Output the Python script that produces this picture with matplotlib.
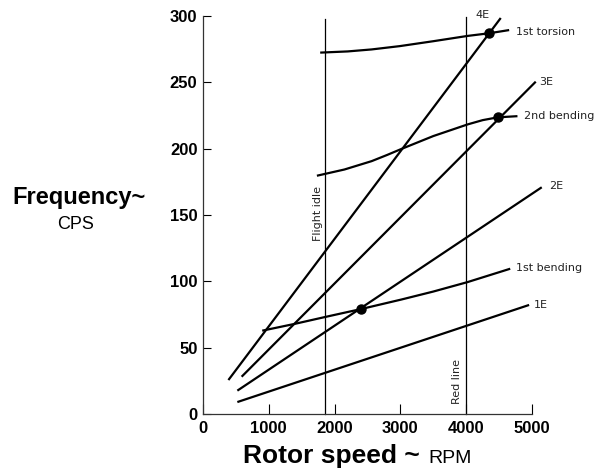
import matplotlib
matplotlib.use("Agg")
import matplotlib.pyplot as plt

# ---- data ----
e1_rpm = [522, 4956]
e1_cps = [9.0, 82.2]
e2_rpm = [522, 5148]
e2_cps = [17.6, 170.9]
e3_rpm = [587, 5057]
e3_cps = [28.1, 250.5]
e4_rpm = [386, 4525]
e4_cps = [25.6, 298.5]

bend1_rpm = [900, 1400, 1872, 2401, 3016, 3500, 4019, 4669]
bend1_cps = [62.8, 68.0, 73.3, 79.1, 86.3, 92.3, 99.4, 109.5]
bend2_rpm = [1731, 2150, 2563, 2800, 3016, 3500, 4023, 4250, 4477, 4779]
bend2_cps = [179.6, 184.3, 190.6, 195.3, 199.8, 209.5, 218.3, 221.5, 223.6, 224.5]
tors1_rpm = [1781, 2200, 2563, 2991, 3500, 4023, 4351, 4653]
tors1_cps = [272.4, 273.3, 274.8, 277.3, 281.0, 285.0, 287.0, 289.4]

dot_rpm = [2400, 4480, 4350]
dot_cps = [79.0, 223.5, 287.0]

flight_idle_rpm = 1860
red_line_rpm = 4000

line_labels = ["4E", "1st torsion", "3E", "2nd bending", "2E", "1st bending", "1E"]
label_rpm = [4246, 4755, 5107, 4880, 5259, 4755, 5032]
label_cps = [300.7, 288.2, 250.5, 224.9, 171.9, 109.9, 82.2]

x_ticks = [0, 1000, 2000, 3000, 4000, 5000]
y_ticks = [0, 50, 100, 150, 200, 250, 300]

# ---- figure ----
plt.rcParams['font.family'] = ['Liberation Sans', 'DejaVu Sans']
W, H = 610, 470
fig = plt.figure(figsize=(W / 100, H / 100), dpi=100)
ax = fig.add_axes([203 / W, (H - 414) / H, (532 - 203) / W, (414 - 16) / H])
ax.set_xlim(0, 5000)
ax.set_ylim(0, 300)

lw = 1.6
for xs, ys in [(e1_rpm, e1_cps), (e2_rpm, e2_cps), (e3_rpm, e3_cps), (e4_rpm, e4_cps),
               (bend1_rpm, bend1_cps), (bend2_rpm, bend2_cps), (tors1_rpm, tors1_cps)]:
    ax.plot(xs, ys, color='black', lw=lw, clip_on=False, solid_capstyle='butt',
            solid_joinstyle='round')

ax.plot([flight_idle_rpm, flight_idle_rpm], [0, 298], color='black', lw=0.9, clip_on=False)
ax.plot([red_line_rpm, red_line_rpm], [0, 299], color='black', lw=0.9, clip_on=False)

ax.plot(dot_rpm, dot_cps, 'o', color='black', ms=6.5, clip_on=False)

small = dict(family=['DejaVu Sans'], fontsize=8, color='#222222')
for t, xr, yc in zip(line_labels, label_rpm, label_cps):
    if t == "4E":
        ax.text(xr, yc, t, ha='center', va='center', **small)
    else:
        ax.text(xr, yc, t, ha='left', va='center', **small)

ax.text(1755, 151.5, "Flight idle", rotation=90, ha='center', va='center', **small)
ax.text(3863, 24.3, "Red line", rotation=90, ha='center', va='center', **small)

# spines & ticks
for s in ['top', 'right']:
    ax.spines[s].set_visible(False)
for s in ['left', 'bottom']:
    ax.spines[s].set_linewidth(0.9)
    ax.spines[s].set_color('#333333')
ax.set_xticks(x_ticks)
ax.set_yticks(y_ticks)
ax.tick_params(axis='x', direction='in', length=7, width=0.8, labelsize=12, pad=5)
ax.tick_params(axis='y', direction='in', length=6, width=0.8, labelsize=12, pad=4)
for lab in ax.get_xticklabels() + ax.get_yticklabels():
    lab.set_fontweight('bold')

# axis titles
fig.text(12 / W, (H - 204) / H, "Frequency~", fontsize=17, fontweight='bold', ha='left', va='baseline')
fig.text(76 / W, (H - 229) / H, "CPS", fontsize=13, ha='center', va='baseline')
fig.text(243 / W, (H - 463) / H, "Rotor speed ~", fontsize=19, fontweight='bold', ha='left', va='baseline')
fig.text(428 / W, (H - 463) / H, "RPM", fontsize=14, ha='left', va='baseline')

fig.savefig("out.png", dpi=100)
